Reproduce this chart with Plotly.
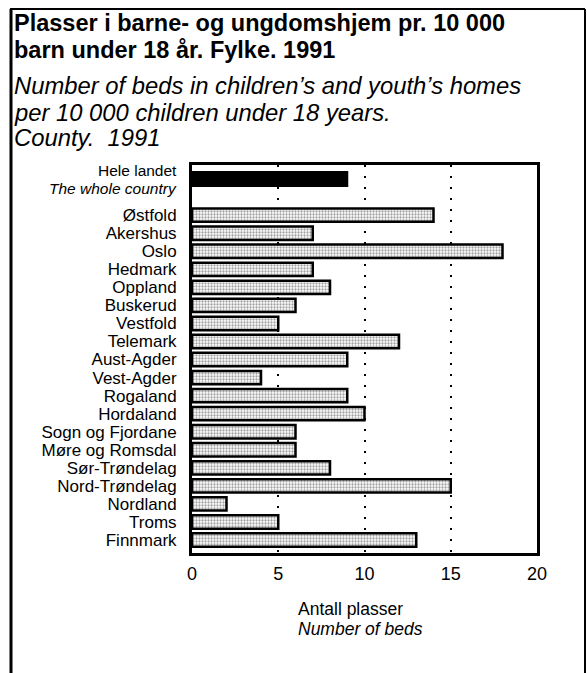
import plotly.graph_objects as go

# ---- data ----
total_label = ["Hele landet", "The whole country"]
total_value = [9]

counties = ["Østfold", "Akershus", "Oslo", "Hedmark", "Oppland", "Buskerud",
            "Vestfold", "Telemark", "Aust-Agder", "Vest-Agder", "Rogaland",
            "Hordaland", "Sogn og Fjordane", "Møre og Romsdal", "Sør-Trøndelag",
            "Nord-Trøndelag", "Nordland", "Troms", "Finnmark"]
county_values = [14, 7, 18, 7, 8, 6, 5, 12, 9, 4, 9, 10, 6, 6, 8, 15, 2, 5, 13]

x_ticks = [0, 5, 10, 15, 20]

title_no = ["Plasser i barne- og ungdomshjem pr. 10 000",
            "barn under 18 år. Fylke. 1991"]
title_en = ["Number of beds in children’s and youth’s homes",
            "per 10 000 children under 18 years.",
            "County.  1991"]
axis_title = ["Antall plasser", "Number of beds"]

# positions: national total first, one empty slot, then counties
total_pos = [0]
county_pos = list(range(2, 2 + len(counties)))

W, H = 587, 673
L, R, T, B = 192, 50, 165, 120
pw, ph = W - L - R, H - T - B

def px(x):
    return (x - L) / pw

def py(y):
    return (H - B - y) / ph

FONT = "Liberation Sans, Arial, Helvetica, sans-serif"

fig = go.Figure()
fig.add_trace(go.Bar(
    x=total_value, y=total_pos, orientation="h", width=0.78,
    marker=dict(color="black", line=dict(color="black", width=2)),
    showlegend=False, hoverinfo="x",
))
fig.add_trace(go.Bar(
    x=county_values, y=county_pos, orientation="h", width=0.74,
    marker=dict(color="white", line=dict(color="black", width=2.5),
                pattern=dict(shape=".", fgcolor="#444444", bgcolor="white",
                             size=3, solidity=0.45)),
    showlegend=False, hoverinfo="x",
))

fig.update_layout(
    width=W, height=H,
    margin=dict(l=L, r=R, t=T, b=B, pad=0),
    paper_bgcolor="white", plot_bgcolor="white",
    barmode="overlay",
    font=dict(family=FONT, color="black", size=17),
    xaxis=dict(
        range=[0, 20], tickvals=x_ticks, ticktext=[str(v) for v in x_ticks],
        showgrid=True, gridcolor="black", gridwidth=2, griddash="2px,9px",
        zeroline=False, showline=True, linecolor="black", linewidth=3, mirror=True,
        ticks="", ticklabelstandoff=2, tickfont=dict(size=18),
        fixedrange=True,
    ),
    yaxis=dict(
        range=[20.72, -0.78],
        tickvals=total_pos + county_pos,
        ticktext=[""] + counties,
        showgrid=False, zeroline=False,
        showline=True, linecolor="black", linewidth=3, mirror=True,
        ticks="", ticklabelstandoff=9, tickfont=dict(size=17),
        fixedrange=True,
    ),
)

def text(t, x, y, size, anchor="left"):
    fig.add_annotation(text=t, xref="paper", yref="paper", x=px(x), y=py(y),
                       xanchor=anchor, yanchor="middle", showarrow=False,
                       font=dict(size=size, family=FONT, color="black"))

# titles
text("<b>" + title_no[0] + "</b>", 12, 23, 23.5)
text("<b>" + title_no[1] + "</b>", 12, 50, 23.5)
for t, y in zip(title_en, [85, 112, 137]):
    text("<i>" + t + "</i>", 12, y, 23.8)

# national total label
text(total_label[0], 179, 171, 15.5, "right")
text("<i>" + total_label[1] + "</i>", 179, 188, 15.5, "right")

# axis title
text(axis_title[0], 296, 609, 17.5)
text("<i>" + axis_title[1] + "</i>", 296, 629, 17.5)

# outer frame
fig.add_shape(type="line", xref="paper", yref="paper",
              x0=px(11), x1=px(11), y0=py(9), y1=py(673), line=dict(color="black", width=3))
fig.add_shape(type="line", xref="paper", yref="paper",
              x0=px(10), x1=px(585), y0=py(9), y1=py(9), line=dict(color="black", width=2))
fig.add_shape(type="line", xref="paper", yref="paper",
              x0=px(585), x1=px(585), y0=py(9), y1=py(673), line=dict(color="black", width=2))

fig.write_html("out.html", config={"displayModeBar": False},
               post_script="document.body.style.margin='0';document.body.style.overflow='hidden';")
